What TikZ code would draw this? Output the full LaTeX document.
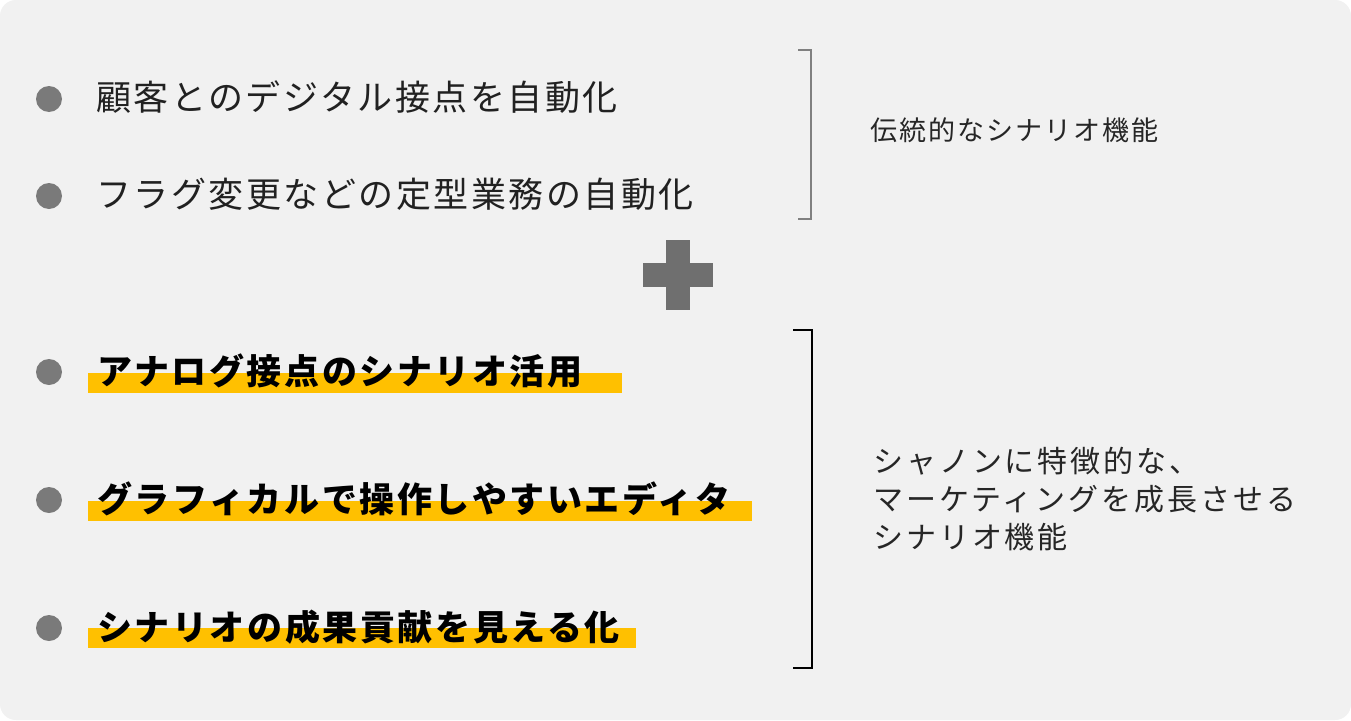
\documentclass[tikz,border=0pt]{standalone}
\usepackage{fontspec}
\setmainfont{Noto Sans CJK JP}
\begin{document}
\begin{tikzpicture}[x=1pt,y=-1pt,
  item/.style={anchor=base west,inner sep=0pt,text=black!87},
  plain/.style={item,font=\fontsize{35}{40}\selectfont\addfontfeatures{LetterSpace=7.2}},
  strong/.style={item,font=\fontsize{35}{40}\selectfont\bfseries\addfontfeatures{LetterSpace=7.4},text=black},
  bulletdot/.style={circle,fill=black!52,minimum size=26pt,inner sep=0pt},
  hilite/.style={fill=hiyellow},
  label/.style={inner sep=0pt,align=left,text=black!85},
  brk/.style={line width=2.6pt,line cap=butt,line join=miter}]
\definecolor{hiyellow}{HTML}{FFC000}
\definecolor{bg}{HTML}{F1F1F1}
\definecolor{plusgray}{HTML}{6F6F6F}
\useasboundingbox (0,0) rectangle (1351,720);
\fill[white] (0,0) rectangle (1351,720);
\fill[bg,rounded corners=16pt] (0,0) rectangle (1351,720);

% top items
\node[bulletdot] (b1) at (49,99) {};
\node[plain] (t1) at (96,110) {顧客とのデジタル接点を自動化};
\node[bulletdot] (b2) at (49,196) {};
\node[plain] (t2) at (96,207) {フラグ変更などの定型業務の自動化};

% top bracket
\coordinate (k1a) at (798,50);
\coordinate (k1b) at (811,50);
\coordinate (k1c) at (811,219);
\coordinate (k1d) at (798,219);
\draw[brk,black!50] (k1a) -- (k1b) -- (k1c) -- (k1d);
\node[label,anchor=base west,font=\fontsize{27}{32}\selectfont\addfontfeatures{LetterSpace=7.6}] (l1) at (870,140) {伝統的なシナリオ機能};

% plus sign
\fill[plusgray] (666,240) rectangle (690,310);
\fill[plusgray] (643,263) rectangle (713,287);

% bottom highlights
\fill[hilite] (88,373) rectangle (622,393);
\fill[hilite] (88,501) rectangle (752,521);
\fill[hilite] (88,628) rectangle (636,648);

\node[bulletdot] (b3) at (49,372) {};
\node[strong] (t3) at (97,384) {アナログ接点のシナリオ活用};
\node[bulletdot] (b4) at (49,500) {};
\node[strong] (t4) at (97,512) {グラフィカルで操作しやすいエディタ};
\node[bulletdot] (b5) at (49,628) {};
\node[strong] (t5) at (97,640) {シナリオの成果貢献を見える化};

% bottom bracket
\coordinate (k2a) at (793,330);
\coordinate (k2b) at (812,330);
\coordinate (k2c) at (812,668);
\coordinate (k2d) at (793,668);
\draw[brk,black] (k2a) -- (k2b) -- (k2c) -- (k2d);
\node[label,anchor=west,font=\fontsize{30}{38}\selectfont\addfontfeatures{LetterSpace=9.8}] (l2) at (873,499) {シャノンに特徴的な、\\マーケティングを成長させる\\シナリオ機能};
\end{tikzpicture}
\end{document}
